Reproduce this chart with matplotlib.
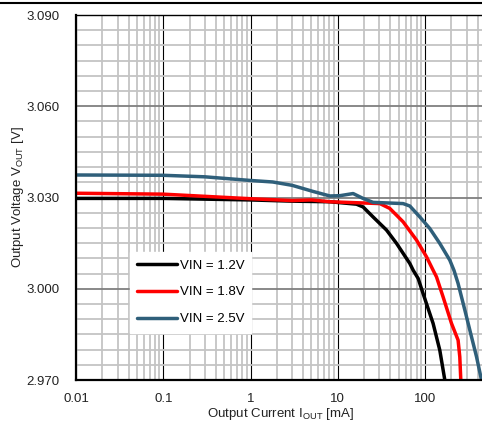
import matplotlib
matplotlib.use("Agg")
import matplotlib.pyplot as plt
from matplotlib.lines import Line2D
from matplotlib.ticker import LogLocator, FixedLocator, MultipleLocator, FormatStrFormatter

plt.rcParams["font.family"] = ["Liberation Sans", "DejaVu Sans"]
plt.rcParams["mathtext.fontset"] = "custom"
plt.rcParams["mathtext.rm"] = "Liberation Sans"

# values (current in mA, voltage in V)
i_12 = [0.01, 0.1, 1, 3, 8.12, 16.4, 19.5, 25.4, 36.2, 47.2, 67.0, 73.1,
        83.4, 95.1, 123.8, 147.7, 168.6]
v_12 = [3.0297, 3.0297, 3.0292, 3.0288, 3.0286, 3.0278, 3.0269, 3.0236,
        3.0193, 3.0149, 3.0083, 3.0061, 3.0034, 2.9984, 2.9886, 2.9798, 2.9700]

i_18 = [0.01, 0.1, 1, 3, 5, 8.12, 30.4, 39.5, 56.1, 79.9, 104, 123.8, 135.4,
        161.2, 201.2, 239.4, 250.4, 257.1]
v_18 = [3.0314, 3.0311, 3.0296, 3.0290, 3.0292, 3.0286, 3.0280, 3.0264,
        3.0220, 3.0160, 3.0105, 3.0061, 3.0039, 2.9973, 2.9886, 2.9831,
        2.9776, 2.9700]

i_25 = [0.01, 0.1, 0.3, 1, 1.8, 3, 5.2, 8.12, 10.6, 15.0, 19.5, 25.4, 56.1,
        67.0, 87.2, 113.5, 147.7, 192.3, 215, 239, 286, 341, 389, 443.8]
v_25 = [3.0374, 3.0373, 3.0368, 3.0356, 3.0351, 3.0340, 3.0320, 3.0305,
        3.0306, 3.0313, 3.0297, 3.0284, 3.0280, 3.0272, 3.0236, 3.0198,
        3.0149, 3.0094, 3.0060, 3.0018, 2.9930, 2.9842, 2.9777, 2.9700]

labels = ["VIN = 1.2V", "VIN = 1.8V", "VIN = 2.5V"]
colors = ["#000000", "#ff0000", "#2f5f7a"]

fig = plt.figure(figsize=(4.82, 4.26), dpi=100)
ax = fig.add_axes([76 / 482, 1 - 380 / 426, 410 / 482, 365 / 426])

for xs, ys, c, lab in [(i_12, v_12, colors[0], labels[0]),
                       (i_18, v_18, colors[1], labels[1]),
                       (i_25, v_25, colors[2], labels[2])]:
    ax.plot(xs, ys, color=c, lw=2.5, label=lab,
            solid_capstyle="round", solid_joinstyle="round")

ax.set_xscale("log")
ax.set_xlim(0.01, 500)
ax.set_ylim(2.970, 3.090)

ax.xaxis.set_major_locator(FixedLocator([0.01, 0.1, 1, 10, 100]))
ax.set_xticklabels(["0.01", "0.1", "1", "10", "100"])
ax.xaxis.set_minor_locator(LogLocator(base=10, subs=range(2, 10), numticks=20))
ax.yaxis.set_major_locator(MultipleLocator(0.03))
ax.yaxis.set_minor_locator(MultipleLocator(0.005))
ax.yaxis.set_major_formatter(FormatStrFormatter("%.3f"))

ax.tick_params(which="both", length=0, labelsize=9.5, colors="#222222")
ax.tick_params(axis="y", pad=12)
ax.tick_params(axis="x", pad=9)

ax.grid(which="minor", axis="both", color="#c4c4c4", lw=1.3)
ax.grid(which="major", axis="y", color="#7f7f7f", lw=1.3)
ax.grid(which="major", axis="x", color="#000000", lw=0.8)
ax.set_axisbelow(True)

for side in ["left", "bottom"]:
    ax.spines[side].set_linewidth(1.6)
for side in ["top", "right"]:
    ax.spines[side].set_linewidth(1.0)

ax.set_xlabel(r"Output Current I$_{\mathregular{OUT}}$ [mA]", fontsize=9.5,
              color="#222222", labelpad=1)
ax.set_ylabel(r"Output Voltage V$_{\mathregular{OUT}}$ [V]", fontsize=9.5,
              color="#222222", labelpad=0)

leg = ax.legend(loc="upper left", bbox_to_anchor=(0.132, 0.35), frameon=True,
                fontsize=9.5, handlelength=3.0, handletextpad=0.2,
                labelspacing=1.1, borderpad=0.55, borderaxespad=0,
                fancybox=False)
leg.get_frame().set_edgecolor("white")
leg.get_frame().set_alpha(1.0)

fig.add_artist(Line2D([0, 1], [1 - 2.5 / 426, 1 - 2.5 / 426], color="black", lw=1.5))

fig.savefig("out.png", dpi=100)
